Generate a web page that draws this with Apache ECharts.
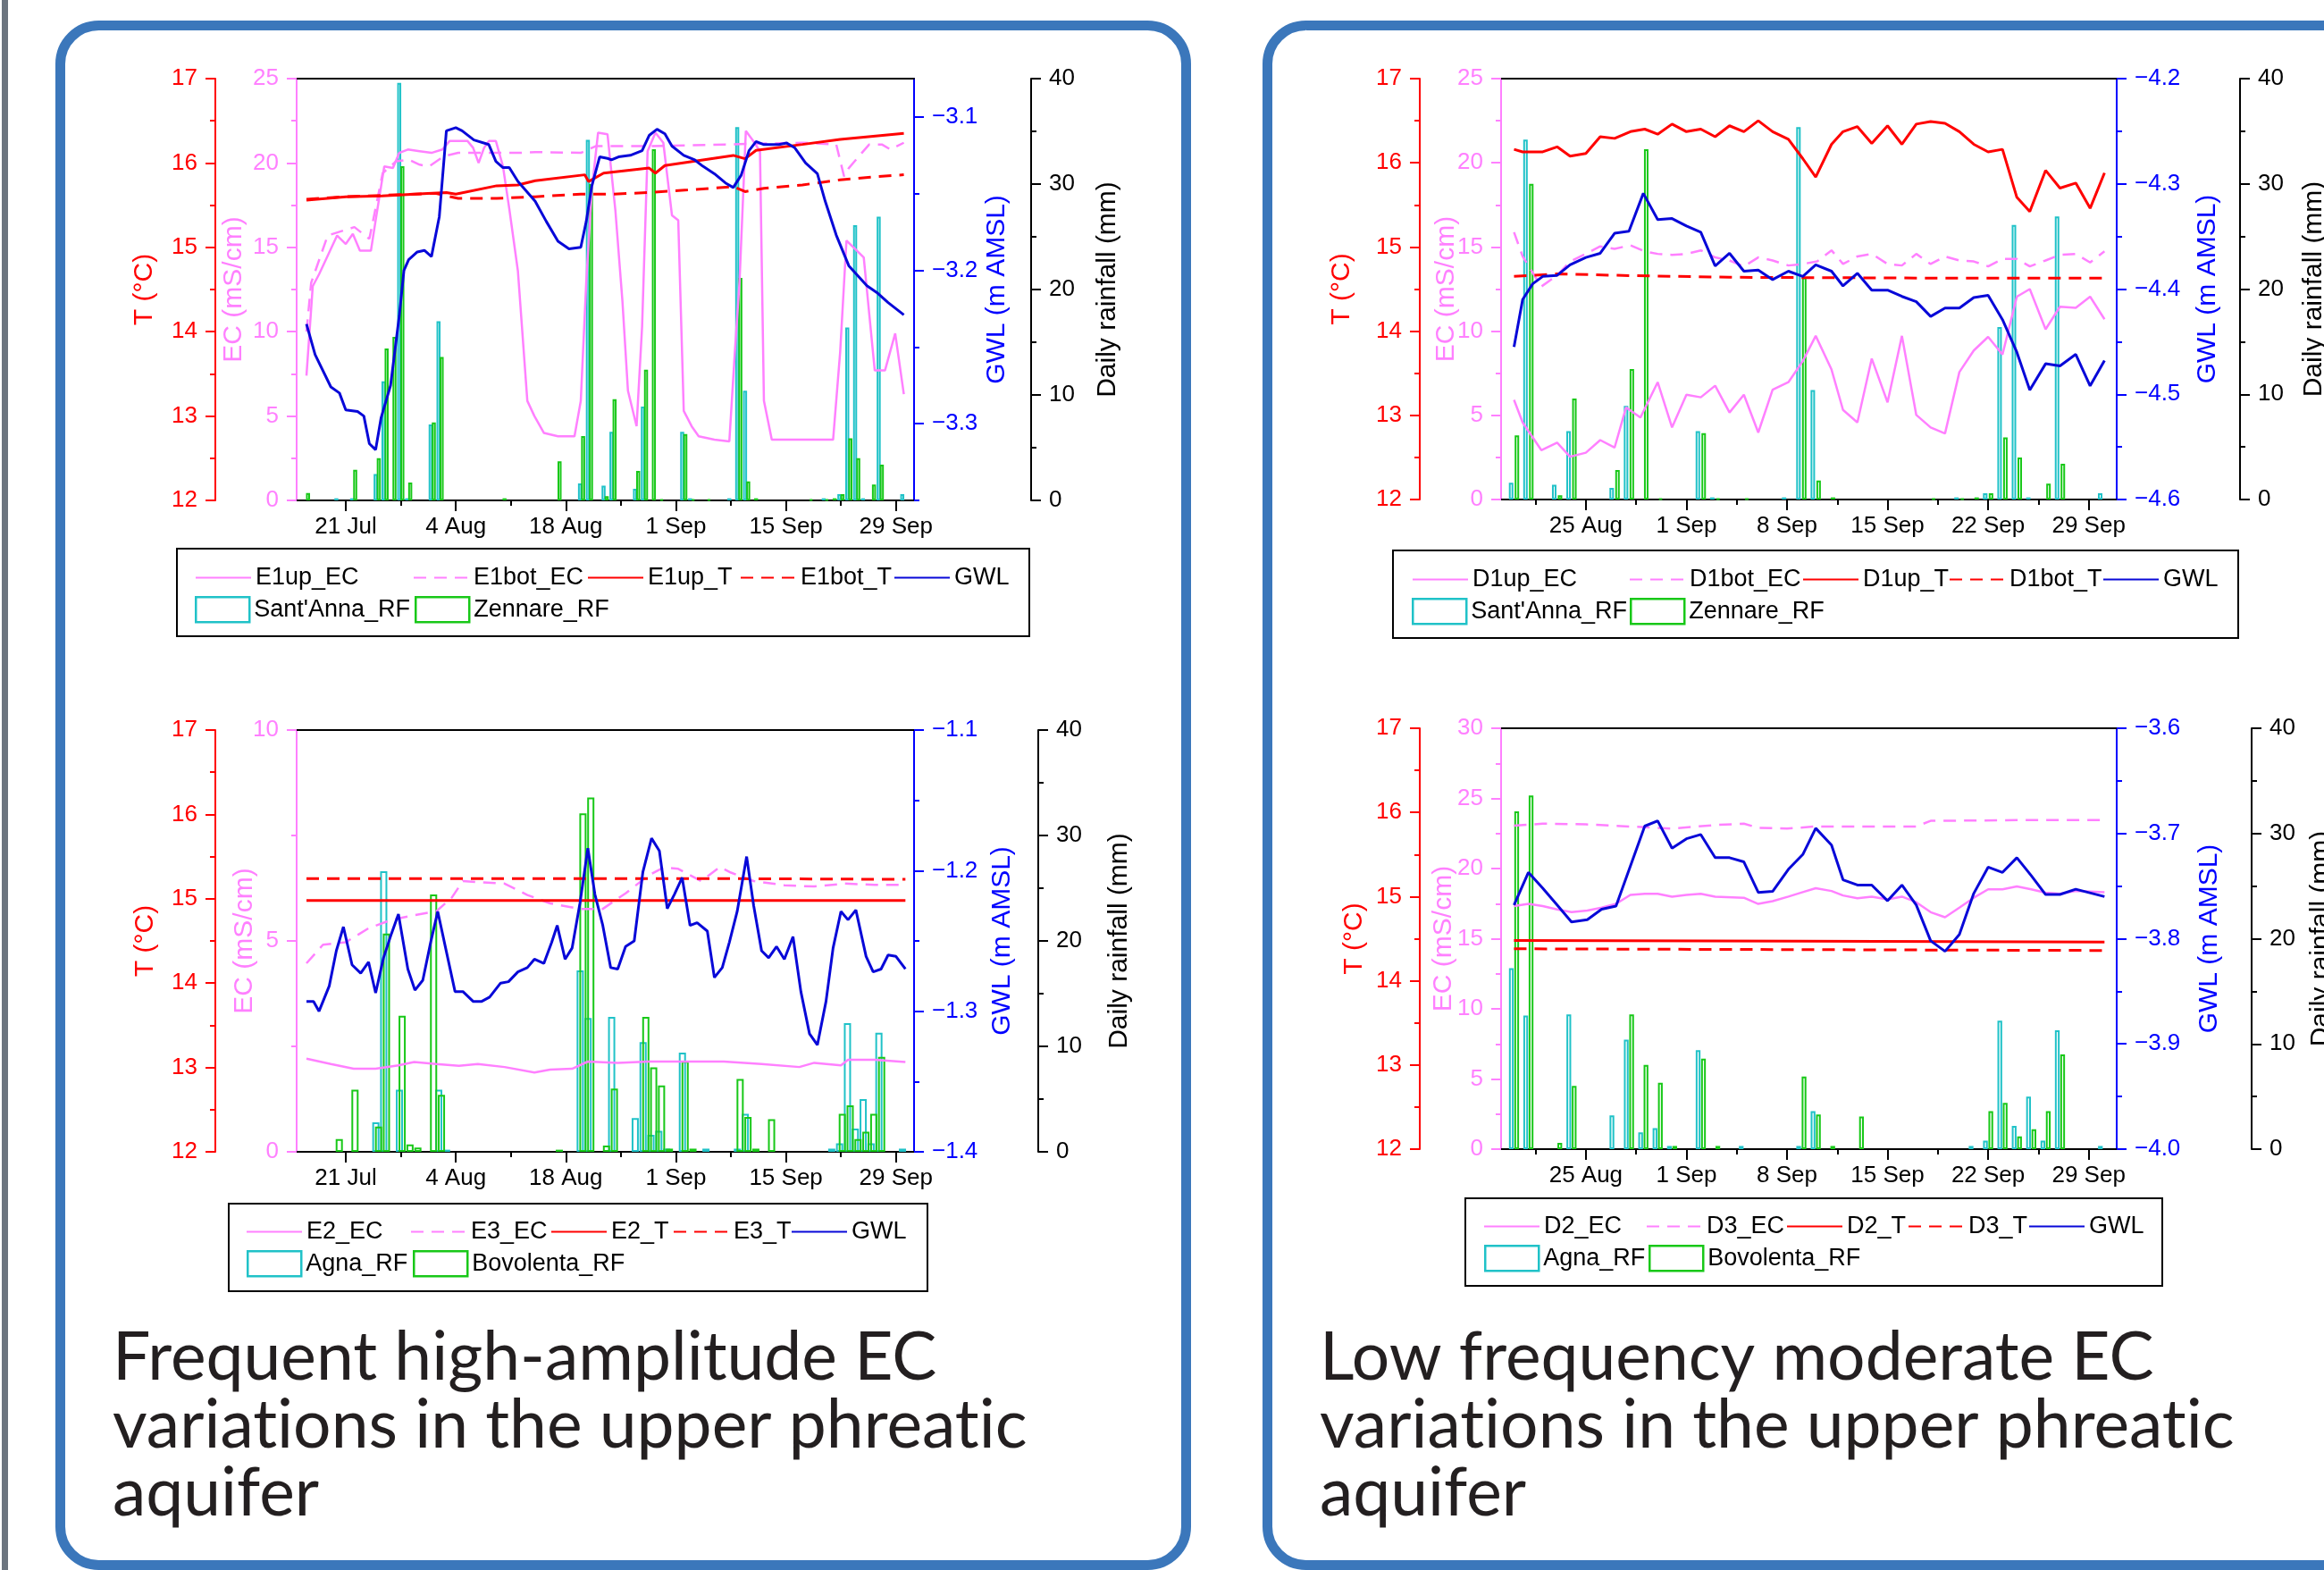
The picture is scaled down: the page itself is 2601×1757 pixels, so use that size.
<!DOCTYPE html>
<html><head><meta charset="utf-8">
<script src="https://cdn.jsdelivr.net/npm/echarts@6/dist/echarts.min.js"></script>
<style>html,body{margin:0;padding:0;background:#fff}#c{width:2601px;height:1757px}</style>
</head><body><div id="c"></div>
<script>
// ---------- tick values / labels (day index: 0 = 1 Jul) ----------
const E_X_TICKS = [20, 34, 48, 62, 76, 90];
const E_X_LABELS = ['21 Jul', '4 Aug', '18 Aug', '1 Sep', '15 Sep', '29 Sep'];
const E_X_MINOR = [27, 41, 55, 69, 83];
const D_X_TICKS = [55, 62, 69, 76, 83, 90];
const D_X_LABELS = ['25 Aug', '1 Sep', '8 Sep', '15 Sep', '22 Sep', '29 Sep'];
const D_X_MINOR = [51.5, 58.5, 65.5, 72.5, 79.5, 86.5];
const GWL1_TICKS = [-3.3, -3.2, -3.1];
const GWL1_MINOR = [-3.35, -3.25, -3.15];
const GWL2_TICKS = [-4.6, -4.5, -4.4, -4.3, -4.2];
const GWL2_MINOR = [-4.55, -4.45, -4.35, -4.25];
const GWL3_TICKS = [-1.4, -1.3, -1.2, -1.1];
const GWL3_MINOR = [-1.35, -1.25, -1.15];
const GWL4_TICKS = [-4.0, -3.9, -3.8, -3.7, -3.6];
const GWL4_MINOR = [-3.95, -3.85, -3.75, -3.65];

// ---------- rainfall (mm/day) ----------
const SANTANNA_RF = [[19,0.2],[21,0.2],[24,2.5],[25,11.3],[27,39.6],[28,0.2],[31,7.2],[32,17.0],[50,1.6],[51,34.2],[53,1.4],[54,6.5],[57,1.1],[58,8.9],[63,6.5],[64,0.2],[69,0.2],[70,35.4],[71,10.4],[81,0.2],[83,0.6],[84,16.4],[85,26.1],[86,0.2],[88,26.9],[91,0.6]];
const ZENNARE_RF = [[15,0.7],[21,2.9],[24,4.0],[25,14.4],[26,15.5],[27,31.7],[28,1.7],[31,7.4],[32,13.6],[40,0.2],[47,3.7],[50,6.1],[51,30.0],[53,0.4],[54,9.6],[57,2.8],[58,12.4],[59,33.3],[60,0.1],[63,6.3],[64,0.1],[66,0.1],[70,21.1],[71,1.8],[72,0.2],[79,0.1],[81,0.1],[82,0.2],[83,0.6],[84,5.9],[85,4.0],[87,1.5],[88,3.4]];
const AGNA_RF = [[24,2.8],[25,26.6],[27,5.9],[32,5.9],[33,0.2],[50,17.2],[51,12.7],[54,12.8],[57,3.2],[58,10.4],[59,1.6],[60,2.0],[61,0.3],[63,9.4],[66,0.3],[70,0.3],[71,3.6],[82,0.3],[83,0.8],[84,12.2],[85,2.2],[86,5.0],[87,0.8],[88,11.3],[91,0.3]];
const BOVOLENTA_RF = [[19,1.2],[21,5.9],[24,2.4],[25,20.7],[27,12.9],[28,0.7],[29,0.4],[31,24.4],[32,5.4],[47,0.2],[50,32.1],[51,33.6],[53,0.6],[54,6.0],[58,12.8],[59,8.0],[60,6.3],[61,0.3],[63,8.6],[64,0.3],[70,6.9],[71,3.3],[72,0.3],[74,3.1],[83,3.6],[84,4.4],[85,1.2],[86,1.9],[87,3.6],[88,9.0]];

// ---------- panel E1 ----------
const E1UP_EC = [[15,7.4],[15.8,12.7],[16.6,13.4],[17.5,14.3],[18.9,15.7],[20,15.2],[20.9,15.8],[21.8,14.8],[23.2,14.8],[23.8,16.6],[24.9,19.8],[26,19.7],[26.8,20.6],[27.9,20.8],[29.4,20.7],[30.9,20.6],[32.3,20.8],[33.2,21.3],[35.5,21.3],[36.2,20.9],[36.9,20.0],[37.6,20.9],[38.2,21.3],[39.1,21.3],[40,19.8],[40.8,17.3],[41.9,13.6],[43.1,5.9],[44,5.0],[45.2,4.0],[47,3.8],[49.1,3.8],[49.9,5.9],[50.6,13.0],[51.3,18.4],[52.1,21.8],[53.3,21.7],[54.3,17.2],[55.2,11.8],[55.9,6.5],[57,4.4],[57.7,10.3],[58.4,20.7],[59.4,21.8],[60.4,21.2],[61.5,16.9],[62.3,16.6],[63,5.3],[64,4.4],[64.9,3.8],[66.9,3.6],[68.8,3.5],[69.5,8.8],[70.1,13.0],[70.9,21.9],[71.7,21.4],[72.7,20.7],[73.2,5.9],[74.2,3.6],[82,3.6],[82.9,8.8],[83.7,15.4],[84.6,15.0],[85.9,14.4],[87.3,7.7],[88.6,7.7],[89.9,9.9],[91,6.3]];
const E1BOT_EC = [[15,10.0],[15.6,12.9],[17.7,15.7],[21.1,16.2],[23,15.5],[24.7,19.4],[26.4,20.1],[28,20.2],[29.4,19.9],[30.6,19.8],[32.5,20.4],[34.3,20.6],[42,20.6],[44.1,20.65],[49.9,20.6],[51.8,21.0],[58.6,21.0],[68.3,21.1],[78.1,21.2],[82.4,21.1],[83.4,19.2],[84,19.7],[85.1,20.3],[86.6,21.1],[88.2,21.1],[89.3,20.8],[91,21.2]];
const E1UP_T = [[15,15.56],[20,15.6],[24.6,15.61],[30.4,15.64],[32.8,15.65],[34,15.63],[39.2,15.73],[41.9,15.74],[44.1,15.79],[50.4,15.86],[50.9,15.78],[52.8,15.88],[58.6,15.94],[59.4,15.88],[60.6,15.97],[69.3,16.09],[70.8,16.05],[72.2,16.15],[78.1,16.22],[82.9,16.28],[91,16.35]];
const E1BOT_T = [[15,15.57],[20,15.6],[31.4,15.64],[34.3,15.58],[39.2,15.58],[44.1,15.6],[49.9,15.63],[53.8,15.63],[58.6,15.65],[63.5,15.68],[69.3,15.72],[70.8,15.66],[73.2,15.7],[78.1,15.74],[82.9,15.8],[87.8,15.84],[91,15.86]];
const E1_GWL = [[15,-3.235],[16.1,-3.255],[18.1,-3.276],[19.2,-3.28],[20,-3.291],[21.5,-3.292],[22.3,-3.295],[23,-3.313],[23.8,-3.317],[24.5,-3.296],[25.7,-3.275],[26.8,-3.23],[27.4,-3.2],[28,-3.193],[29.1,-3.188],[30,-3.187],[30.9,-3.191],[31.9,-3.165],[32.8,-3.109],[34,-3.107],[34.8,-3.109],[36.3,-3.115],[38.2,-3.118],[39.1,-3.129],[40,-3.133],[40.8,-3.133],[41.9,-3.142],[44.1,-3.155],[45.5,-3.168],[47,-3.181],[48.4,-3.186],[49.9,-3.185],[50.6,-3.168],[51.3,-3.145],[52.3,-3.126],[53.3,-3.127],[53.8,-3.128],[54.7,-3.126],[56.2,-3.125],[57.7,-3.122],[58.6,-3.112],[59.6,-3.108],[60.6,-3.111],[61.5,-3.119],[63,-3.125],[64.4,-3.128],[65.4,-3.132],[66.9,-3.137],[68.3,-3.143],[69.3,-3.146],[70.3,-3.138],[71.3,-3.122],[72.2,-3.116],[73.2,-3.118],[74.2,-3.118],[75.1,-3.118],[76.1,-3.117],[77.1,-3.12],[78.5,-3.13],[80,-3.137],[81,-3.155],[82.4,-3.177],[84,-3.197],[86.3,-3.21],[87.7,-3.215],[89,-3.221],[91,-3.229]];

// ---------- panel D1 ----------
const D1UP_EC = [[50,5.92],[50.6,4.58],[51.9,2.93],[53,3.38],[53.9,2.54],[55,2.78],[56,3.53],[57,3.08],[57.8,5.47],[58.8,4.87],[60,6.97],[61,4.28],[62,6.22],[63,6.07],[64,6.76],[65,5.17],[66,6.22],[67,3.98],[68,6.52],[69.1,6.97],[70.1,8.22],[71,9.72],[72.1,7.72],[72.9,5.32],[73.9,4.58],[74.9,8.37],[76,5.77],[77,9.72],[78,5.02],[79,4.28],[80,3.92],[81,7.57],[82,8.85],[83,9.66],[84,8.61],[85,12.05],[85.9,12.5],[87,10.11],[88,11.45],[89.1,11.39],[90.1,12.05],[91.1,10.71]];
const D1BOT_EC = [[50,15.88],[50.6,14.44],[51.9,12.65],[53,13.31],[53.9,14.14],[55,14.59],[56,15.04],[57,14.89],[58.1,15.1],[59.1,14.74],[60,14.59],[61,14.53],[62,14.59],[63,14.8],[64,14.38],[65,14.2],[66,13.85],[67,14.38],[68,14.2],[69.1,13.9],[70.1,13.99],[71.1,14.14],[72.1,14.8],[72.9,13.99],[73.9,14.44],[74.9,14.59],[76,13.99],[77,13.9],[78,14.59],[79,13.99],[80,14.44],[81,14.2],[82,14.14],[83,13.85],[84,14.29],[85,14.29],[85.9,13.85],[87,14.2],[88,14.53],[89.1,14.59],[90.1,14.08],[91.1,14.74]];
const D1UP_T = [[50,16.16],[50.6,16.13],[52,16.13],[53,16.19],[53.9,16.08],[55,16.11],[56,16.31],[57,16.29],[58.1,16.37],[59.1,16.4],[60,16.34],[61,16.46],[62,16.37],[63,16.4],[64,16.31],[65,16.44],[66,16.37],[67,16.5],[68,16.37],[69.1,16.28],[70.1,16.05],[71,15.83],[72.1,16.22],[72.9,16.37],[73.9,16.43],[74.9,16.23],[76,16.44],[77,16.22],[78,16.46],[79,16.49],[80,16.47],[81,16.37],[82,16.22],[83,16.13],[84,16.16],[85,15.59],[85.9,15.42],[87,15.91],[88,15.7],[89.1,15.76],[90.1,15.46],[91.1,15.88]];
const D1BOT_T = [[50,14.65],[53,14.68],[58,14.66],[65,14.64],[80,14.63],[91.1,14.63]];
const D1_GWL = [[50,-4.455],[50.6,-4.41],[51.3,-4.395],[52,-4.388],[53,-4.387],[53.9,-4.377],[55,-4.37],[56,-4.366],[57,-4.347],[58,-4.345],[59,-4.309],[60,-4.334],[61,-4.333],[62,-4.34],[63,-4.346],[64,-4.378],[65,-4.366],[66,-4.383],[67,-4.382],[68,-4.391],[69.1,-4.383],[70.1,-4.388],[71,-4.377],[72.1,-4.383],[72.9,-4.397],[73.9,-4.385],[74.9,-4.401],[76,-4.401],[77,-4.407],[78,-4.412],[79,-4.426],[80,-4.418],[81,-4.418],[82,-4.408],[83,-4.406],[84,-4.429],[85,-4.46],[85.9,-4.496],[87,-4.471],[88,-4.473],[89.1,-4.462],[90.1,-4.492],[91.1,-4.468]];

// ---------- panel E2/E3 ----------
const E2_EC = [[15,2.21],[18.1,2.08],[21,1.97],[23.8,1.97],[26.7,2.05],[28.7,2.13],[31.5,2.08],[34.4,2.04],[36.8,2.08],[40.2,2.01],[44,1.88],[46,1.95],[48.8,1.97],[50.8,2.14],[54.6,2.11],[58.5,2.14],[63.3,2.14],[68.1,2.14],[72.9,2.08],[77.7,2.01],[79.6,2.11],[83,2.05],[83.9,2.18],[87.3,2.18],[91.2,2.13]];
const E3_EC = [[15,4.47],[17.1,4.91],[20,4.97],[22.9,5.3],[25.8,5.5],[28.7,5.61],[31.5,5.7],[33.5,6.03],[34.9,6.42],[37.3,6.39],[40.2,6.36],[43.1,6.09],[46,5.89],[49.8,5.76],[52.7,5.76],[55.6,6.13],[58.5,6.55],[60.4,6.74],[62.3,6.71],[65.2,6.42],[67.6,6.75],[69,6.62],[71.9,6.42],[75.8,6.32],[79.6,6.29],[83.5,6.36],[87.3,6.33],[91.2,6.33]];
const E2_T = [[15,14.98],[40,14.98],[65,14.98],[91.2,14.98]];
const E3_T = [[15,15.24],[40,15.24],[65,15.24],[91.2,15.23]];
const E23_GWL = [[15,-1.293],[15.9,-1.293],[16.6,-1.3],[17.9,-1.282],[18.8,-1.257],[19.7,-1.24],[20.8,-1.267],[21.9,-1.273],[22.9,-1.265],[23.8,-1.287],[24.8,-1.262],[25.8,-1.245],[26.7,-1.231],[27.9,-1.27],[28.8,-1.285],[29.8,-1.278],[30.8,-1.251],[31.7,-1.229],[32.7,-1.255],[33.9,-1.286],[34.9,-1.286],[36.2,-1.293],[37.3,-1.293],[38.3,-1.29],[39.7,-1.28],[40.7,-1.279],[41.9,-1.272],[43.1,-1.269],[44,-1.263],[45.2,-1.266],[46.2,-1.251],[46.9,-1.239],[47.9,-1.263],[48.8,-1.255],[49.8,-1.223],[50.8,-1.184],[51.7,-1.217],[52.7,-1.239],[53.7,-1.269],[54.6,-1.27],[55.6,-1.254],[56.7,-1.25],[57.8,-1.201],[58.9,-1.177],[59.9,-1.186],[60.9,-1.227],[61.8,-1.217],[62.8,-1.205],[63.8,-1.239],[64.7,-1.237],[66,-1.243],[66.9,-1.276],[67.9,-1.269],[68.8,-1.251],[69.8,-1.229],[71,-1.19],[71.9,-1.225],[72.9,-1.257],[73.8,-1.262],[74.8,-1.254],[75.8,-1.263],[76.9,-1.247],[77.9,-1.286],[79,-1.316],[80,-1.324],[81.1,-1.293],[82,-1.255],[83,-1.229],[83.9,-1.235],[84.9,-1.228],[86.2,-1.261],[87.1,-1.272],[88.1,-1.27],[89,-1.26],[90,-1.261],[91.2,-1.27]];

// ---------- panel D2/D3 ----------
const D2_EC = [[50,17.32],[51,17.48],[52,17.32],[53,17.09],[54,16.89],[55.1,17.01],[56.1,17.21],[57.1,17.48],[58.1,18.12],[59.1,18.2],[60,18.2],[61,18.0],[62,18.12],[63,18.2],[64,18.0],[66,17.92],[67,17.48],[68,17.68],[69.1,18.0],[70.1,18.32],[71,18.6],[72.1,18.4],[72.9,18.08],[73.9,17.88],[74.9,18.0],[76,17.8],[77,18.0],[78,17.6],[79,16.89],[80,16.53],[81,17.21],[82,17.92],[83,18.52],[84,18.52],[85,18.72],[86,18.52],[87,18.28],[88,18.2],[89.1,18.4],[91.1,18.32]];
const D3_EC = [[50,23.05],[52,23.2],[55,23.15],[58,23.0],[61,22.85],[64,23.1],[66,23.2],[67,22.9],[69,22.85],[71,23.0],[78,23.0],[79,23.4],[85,23.45],[91.1,23.45]];
const D2_T = [[50,14.48],[70,14.47],[91.1,14.46]];
const D3_T = [[50,14.38],[70,14.37],[91.1,14.36]];
const D23_GWL = [[50,-3.768],[51,-3.737],[52,-3.752],[53,-3.768],[54,-3.784],[55.1,-3.782],[56.1,-3.772],[57.1,-3.769],[58.1,-3.731],[59.1,-3.693],[60,-3.688],[61,-3.714],[62,-3.705],[63,-3.701],[64,-3.723],[65,-3.723],[66,-3.727],[67,-3.756],[68,-3.755],[69.1,-3.734],[70.1,-3.72],[71,-3.695],[72.1,-3.711],[72.9,-3.744],[73.9,-3.749],[74.9,-3.749],[76,-3.764],[77,-3.749],[78,-3.768],[79,-3.802],[80,-3.812],[81,-3.796],[82,-3.757],[83,-3.732],[84,-3.737],[85,-3.723],[86,-3.74],[87,-3.758],[88,-3.758],[89.1,-3.753],[91.1,-3.76]];

// ---------- styling ----------
const FONT = "'Liberation Sans', Arial, sans-serif";
const RED = '#ff0000', PINK = '#ff80ff', BLUE_AX = '#0000ff', BLUE_LN = '#0808d8';
const CYAN = '#20c2c8', GREEN = '#18c818';
const DASH = [14, 9];
const TICK_FS = 26, LEG_FS = 27, NAME_FS = 30;

const grids = [], xAxes = [], yAxes = [], series = [], legends = [], graphics = [];

function fmtMinus(v) { return (v < 0 ? '\u2212' : '') + Math.abs(v).toFixed(1); }
function lookup(ticks, labels) {
  return function (v) { const i = ticks.findIndex(t => Math.abs(t - v) < 1e-6); return i >= 0 ? labels[i] : ''; };
}

function buildPanel(P) {
  const g = grids.length;
  grids.push({ left: P.left, top: P.top, width: P.width, height: P.height, containLabel: false, outerBoundsMode: 'none' });
  const xi = xAxes.length;
  xAxes.push({ type: 'value', gridIndex: g, position: 'bottom', min: P.xmin, max: P.xmax,
    axisLine: { show: true, onZero: false, lineStyle: { color: '#000', width: 2 } },
    axisTick: { show: true, customValues: P.xt, length: 12, lineStyle: { color: '#000', width: 2 } },
    axisLabel: { show: true, customValues: P.xt, formatter: lookup(P.xt, P.xl), color: '#000', fontSize: TICK_FS, fontFamily: FONT, margin: 17 },
    splitLine: { show: false } });
  xAxes.push({ type: 'value', gridIndex: g, position: 'bottom', min: P.xmin, max: P.xmax,
    axisLine: { show: false }, axisTick: { show: true, customValues: P.xm, length: 6, lineStyle: { color: '#000', width: 2 } },
    axisLabel: { show: false }, splitLine: { show: false } });
  xAxes.push({ type: 'value', gridIndex: g, position: 'top', min: P.xmin, max: P.xmax,
    axisLine: { show: true, onZero: false, lineStyle: { color: '#000', width: 2 } }, axisTick: { show: false },
    axisLabel: { show: false }, splitLine: { show: false } });

  const yT = yAxes.length;
  yAxes.push({ type: 'value', gridIndex: g, position: 'left', offset: 91, min: 12, max: 17, interval: 1,
    axisLine: { show: true, onZero: false, lineStyle: { color: RED, width: 2 } },
    axisTick: { show: true, length: 11, lineStyle: { color: RED, width: 2 } },
    minorTick: { show: true, splitNumber: 2, length: 6, lineStyle: { color: RED, width: 2 } },
    axisLabel: { color: RED, fontSize: TICK_FS, fontFamily: FONT, margin: 20 }, splitLine: { show: false },
    name: 'T (°C)', nameLocation: 'middle', nameGap: P.gT, nameMoveOverlap: false,
    nameTextStyle: { color: RED, fontSize: NAME_FS, fontFamily: FONT } });
  const yE = yAxes.length;
  yAxes.push({ type: 'value', gridIndex: g, position: 'left', offset: 0, min: 0, max: P.ecMax, interval: 5,
    axisLine: { show: true, onZero: false, lineStyle: { color: PINK, width: 2 } },
    axisTick: { show: true, length: 11, lineStyle: { color: PINK, width: 2 } },
    minorTick: { show: true, splitNumber: 2, length: 6, lineStyle: { color: PINK, width: 2 } },
    axisLabel: { color: PINK, fontSize: TICK_FS, fontFamily: FONT, margin: 20 }, splitLine: { show: false },
    name: 'EC (mS/cm)', nameLocation: 'middle', nameGap: P.gE, nameMoveOverlap: false,
    nameTextStyle: { color: PINK, fontSize: NAME_FS, fontFamily: FONT } });
  const yG = yAxes.length;
  yAxes.push({ type: 'value', gridIndex: g, position: 'right', offset: 0, min: P.gMin, max: P.gMax,
    axisLine: { show: true, onZero: false, lineStyle: { color: BLUE_AX, width: 2 } },
    axisTick: { show: true, customValues: P.gt, length: 11, lineStyle: { color: BLUE_AX, width: 2 } },
    axisLabel: { customValues: P.gt, formatter: fmtMinus, color: BLUE_AX, fontSize: TICK_FS, fontFamily: FONT, margin: 20 },
    splitLine: { show: false },
    name: 'GWL (m AMSL)', nameLocation: 'middle', nameGap: P.gG, nameMoveOverlap: false,
    nameTextStyle: { color: BLUE_AX, fontSize: NAME_FS, fontFamily: FONT } });
  yAxes.push({ type: 'value', gridIndex: g, position: 'right', offset: 0, min: P.gMin, max: P.gMax,
    axisLine: { show: false }, axisTick: { show: true, customValues: P.gm, length: 6, lineStyle: { color: BLUE_AX, width: 2 } },
    axisLabel: { show: false }, splitLine: { show: false } });
  const yR = yAxes.length;
  yAxes.push({ type: 'value', gridIndex: g, position: 'right', offset: P.rainOff, min: 0, max: 40, interval: 10,
    axisLine: { show: true, onZero: false, lineStyle: { color: '#000', width: 2 } },
    axisTick: { show: true, length: 11, lineStyle: { color: '#000', width: 2 } },
    minorTick: { show: true, splitNumber: 2, length: 6, lineStyle: { color: '#000', width: 2 } },
    axisLabel: { color: '#000', fontSize: TICK_FS, fontFamily: FONT, margin: 20 }, splitLine: { show: false },
    name: 'Daily rainfall (mm)', nameLocation: 'middle', nameGap: P.gR, nameMoveOverlap: false,
    nameTextStyle: { color: '#000', fontSize: NAME_FS, fontFamily: FONT } });

  // rainfall bars
  [[P.rf[0], P.rfData[0], CYAN], [P.rf[1], P.rfData[1], GREEN]].forEach(([name, data, col]) => {
    series.push({ type: 'bar', name, xAxisIndex: xi, yAxisIndex: yR, data, barWidth: P.barW, barGap: P.barGap,
      itemStyle: { color: 'rgba(255,255,255,0)', borderColor: col, borderWidth: 2 }, z: 2, animation: false });
  });
  // lines
  const L = (name, data, yi, color, width, dashed) => series.push({ type: 'line', name, xAxisIndex: xi, yAxisIndex: yi, data,
    symbol: 'none', showSymbol: false, lineStyle: { color, width, type: dashed ? DASH : 'solid' }, itemStyle: { color }, z: 3, animation: false });
  L(P.names[0], P.ec[0], yE, PINK, 2.5, false);
  L(P.names[1], P.ec[1], yE, PINK, 2.5, true);
  L(P.names[2], P.t[0], yT, RED, 3, false);
  L(P.names[3], P.t[1], yT, RED, 3, true);
  L('GWL', P.gwl, yG, BLUE_LN, 3, false);

  // legend items
  const row1 = [P.names[0], P.names[1], P.names[2], P.names[3], 'GWL'];
  row1.forEach((nm, i) => legends.push({ left: P.lg1[i], top: P.lgY1 - 14, padding: 0, itemWidth: 62, itemHeight: 28,
    selectedMode: false, data: [{ name: nm, itemStyle: { opacity: 0 } }],
    textStyle: { color: '#000', fontSize: LEG_FS, fontFamily: FONT } }));
  [[P.rf[0], CYAN], [P.rf[1], GREEN]].forEach(([nm, col], i) => legends.push({ left: P.lg2[i], top: P.lgY2 - 14, padding: 0,
    itemWidth: 60, itemHeight: 28, selectedMode: false,
    data: [{ name: nm, icon: 'rect', itemStyle: { color: 'rgba(255,255,255,0)', borderColor: col, borderWidth: 2.5 } }],
    textStyle: { color: '#000', fontSize: LEG_FS, fontFamily: FONT } }));
  graphics.push({ type: 'rect', shape: { x: P.lgBox[0], y: P.lgBox[1], width: P.lgBox[2] - P.lgBox[0], height: P.lgBox[3] - P.lgBox[1] },
    style: { fill: 'none', stroke: '#000', lineWidth: 2 }, z: 5 });
}

buildPanel({ left: 332, top: 88, width: 691, height: 472, xmin: 13.75, xmax: 92.3, xt: E_X_TICKS, xl: E_X_LABELS, xm: E_X_MINOR,
  ecMax: 25, gMin: -3.35, gMax: -3.075, gt: GWL1_TICKS, gm: GWL1_MINOR, rainOff: 131,
  gT: 64, gE: 55, gG: 78, gR: 71, barW: 4.5, barGap: '-22%',
  rf: ["Sant'Anna_RF", 'Zennare_RF'], rfData: [SANTANNA_RF, ZENNARE_RF],
  names: ['E1up_EC', 'E1bot_EC', 'E1up_T', 'E1bot_T'], ec: [E1UP_EC, E1BOT_EC], t: [E1UP_T, E1BOT_T], gwl: E1_GWL,
  lg1: [218, 462, 657, 828, 1000], lgY1: 647, lg2: [218, 464], lgY2: 681, lgBox: [198, 614, 1152, 712] });

buildPanel({ left: 1680, top: 88, width: 689, height: 471, xmin: 49.1, xmax: 91.95, xt: D_X_TICKS, xl: D_X_LABELS, xm: D_X_MINOR,
  ecMax: 25, gMin: -4.6, gMax: -4.2, gt: GWL2_TICKS, gm: GWL2_MINOR, rainOff: 138,
  gT: 72, gE: 46, gG: 87, gR: 68, barW: 5, barGap: '30%',
  rf: ["Sant'Anna_RF", 'Zennare_RF'], rfData: [SANTANNA_RF, ZENNARE_RF],
  names: ['D1up_EC', 'D1bot_EC', 'D1up_T', 'D1bot_T'], ec: [D1UP_EC, D1BOT_EC], t: [D1UP_T, D1BOT_T], gwl: D1_GWL,
  lg1: [1580, 1823, 2017, 2181, 2353], lgY1: 649, lg2: [1580, 1824], lgY2: 683, lgBox: [1559, 616, 2505, 714] });

buildPanel({ left: 332, top: 817, width: 691, height: 472, xmin: 13.75, xmax: 92.3, xt: E_X_TICKS, xl: E_X_LABELS, xm: E_X_MINOR,
  ecMax: 10, gMin: -1.4, gMax: -1.1, gt: GWL3_TICKS, gm: GWL3_MINOR, rainOff: 139,
  gT: 63, gE: 43, gG: 84, gR: 76, barW: 8, barGap: '-62%',
  rf: ['Agna_RF', 'Bovolenta_RF'], rfData: [AGNA_RF, BOVOLENTA_RF],
  names: ['E2_EC', 'E3_EC', 'E2_T', 'E3_T'], ec: [E2_EC, E3_EC], t: [E2_T, E3_T], gwl: E23_GWL,
  lg1: [275, 459, 616, 753, 885], lgY1: 1379, lg2: [276, 462], lgY2: 1413, lgBox: [256, 1347, 1038, 1445] });

buildPanel({ left: 1680, top: 815, width: 689, height: 471, xmin: 49.1, xmax: 91.95, xt: D_X_TICKS, xl: D_X_LABELS, xm: D_X_MINOR,
  ecMax: 30, gMin: -4.0, gMax: -3.6, gt: GWL4_TICKS, gm: GWL4_MINOR, rainOff: 151,
  gT: 58, gE: 49, gG: 89, gR: 63, barW: 5.3, barGap: '13%',
  rf: ['Agna_RF', 'Bovolenta_RF'], rfData: [AGNA_RF, BOVOLENTA_RF],
  names: ['D2_EC', 'D3_EC', 'D2_T', 'D3_T'], ec: [D2_EC, D3_EC], t: [D2_T, D3_T], gwl: D23_GWL,
  lg1: [1660, 1842, 1999, 2135, 2270], lgY1: 1373, lg2: [1661, 1845], lgY2: 1407, lgBox: [1640, 1341, 2420, 1439] });

// frames
graphics.unshift(
  { type: 'rect', shape: { x: 2, y: 0, width: 7, height: 1757 }, style: { fill: '#6c757f' }, z: -20 },
  { type: 'rect', shape: { x: 67.5, y: 28.5, width: 1260, height: 1723, r: 43 }, style: { fill: '#fff', stroke: '#3b77bb', lineWidth: 11 }, z: -20 },
  { type: 'rect', shape: { x: 1418.5, y: 28.5, width: 1400, height: 1723, r: 43 }, style: { fill: '#fff', stroke: '#3b77bb', lineWidth: 11 }, z: -20 }
);

const TITLE_STYLE = { fontFamily: 'Lato', fontSize: 75, fontWeight: 'normal', color: '#231f20', lineHeight: 76 };
const chart = echarts.init(document.getElementById('c'), null, { renderer: 'canvas', width: 2601, height: 1757 });
chart.setOption({
  backgroundColor: '#ffffff',
  animation: false,
  title: [
    { text: 'Frequent high-amplitude EC\nvariat\u200Cions in the upper phreat\u200Cic\naquifer', left: 121, top: 1477, textStyle: TITLE_STYLE },
    { text: 'Low frequency moderate EC\nvariat\u200Cions in the upper phreat\u200Cic\naquifer', left: 1472, top: 1477, textStyle: TITLE_STYLE }
  ],
  grid: grids, xAxis: xAxes, yAxis: yAxes, series, legend: legends,
  graphic: { elements: graphics }
});
</script></body></html>
